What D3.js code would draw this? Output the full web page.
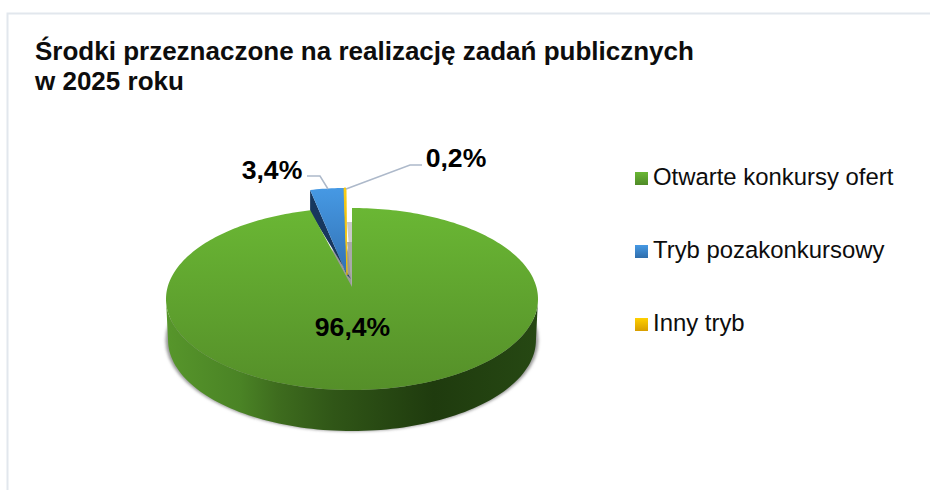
<!DOCTYPE html>
<html lang="pl">
<head>
<meta charset="utf-8">
<title>Środki przeznaczone na realizację zadań publicznych</title>
<script src="https://cdn.jsdelivr.net/npm/d3@7/dist/d3.min.js"></script>
<style>
  html, body { margin: 0; padding: 0; background: #fff; }
  svg { display: block; }
  text { font-family: "Liberation Sans", Arial, sans-serif; fill: #0d0d0d; }
  .title { font-size: 26px; font-weight: bold; }
  .label { font-size: 26.6px; font-weight: bold; fill: #000; }
  .legend { font-size: 23.9px; }
</style>
</head>
<body>
<div id="chart"></div>
<script>
var categories = ['Otwarte konkursy ofert', 'Tryb pozakonkursowy', 'Inny tryb'];
var values = [96.4, 3.4, 0.2];
var valueLabels = ['96,4%', '3,4%', '0,2%'];
var titleLines = ['Środki przeznaczone na realizację zadań publicznych', 'w 2025 roku'];

var width = 930, height = 490;

// fake 3d: one ellipse for the main disc, a smaller/further one for the pulled out wedges
var disc = {cx: 352, cy: 299, rx: 186, ry: 91, apexX: 352, apexY: 287, depth: 41};
var pulled = {cx: 346, cy: 266, rx: 160, ry: 78, apexX: 347, apexY: 275};

function rimPoint(e, a) {
  return [e.cx + e.rx * Math.sin(a), e.cy - e.ry * Math.cos(a)];
}

function wedgePath(e, a0, a1) {
  var p = d3.path(), steps = Math.max(2, Math.ceil((a1 - a0) / 0.02));
  p.moveTo(e.apexX, e.apexY);
  d3.range(steps + 1).forEach(function (i) {
    var pt = rimPoint(e, a0 + (a1 - a0) * i / steps);
    p.lineTo(pt[0], pt[1]);
  });
  p.closePath();
  return p.toString();
}

var svg = d3.select('#chart').append('svg').attr('width', width).attr('height', height);
var defs = svg.append('defs');

function linearGradient(id, horizontal, stops) {
  var g = defs.append('linearGradient').attr('id', id)
    .attr('x1', 0).attr('y1', 0)
    .attr('x2', horizontal ? 1 : 0).attr('y2', horizontal ? 0 : 1);
  stops.forEach(function (s) {
    g.append('stop').attr('offset', s[0]).attr('stop-color', s[1]);
  });
}

linearGradient('greenTop', false, [[0, '#6ab734'], [1, '#558f29']]);
linearGradient('greenWall', true, [[0, '#57962b'], [0.2, '#4a8325'], [0.3, '#3e6c1e'], [0.45, '#305617'], [0.72, '#1f3b0e'], [1, '#264813']]);
linearGradient('blueTop', false, [[0, '#4699e4'], [1, '#3271b3']]);
linearGradient('yellowTop', false, [[0, '#ffd31a'], [1, '#e0a800']]);
linearGradient('swatch0', false, [[0, '#6ab734'], [1, '#4f8a27']]);
linearGradient('swatch1', false, [[0, '#4699e4'], [1, '#2f6dab']]);
linearGradient('swatch2', false, [[0, '#ffd000'], [1, '#d89e00']]);

defs.append('filter').attr('id', 'soft')
  .attr('x', '-10%').attr('y', '-10%').attr('width', '120%').attr('height', '120%')
  .append('feGaussianBlur').attr('stdDeviation', 1.6);

// frame, only top and left are inside the picture
svg.append('path')
  .attr('d', 'M7.5,490V13.5H930')
  .attr('fill', 'none')
  .attr('stroke', '#e2e7ed')
  .attr('stroke-width', 2);

svg.selectAll('.title').data(titleLines).enter().append('text')
  .attr('class', 'title')
  .attr('x', 35)
  .attr('y', function (d, i) { return 60 + i * 30; })
  .text(function (d) { return d; });

var arcs = d3.pie().sort(null).startAngle(0).endAngle(2 * Math.PI)(values);
var greenArc = arcs[0], blueArc = arcs[1], yellowArc = arcs[2];

// shadow under the disc
svg.append('ellipse')
  .attr('cx', disc.cx).attr('cy', disc.cy + disc.depth + 0.5)
  .attr('rx', disc.rx + 0.5).attr('ry', disc.ry)
  .attr('fill', '#9a9a9a')
  .attr('filter', 'url(#soft)');

// outer wall of the disc, the lower rim is a bit narrower
var wallPts = d3.range(0, 101).map(function (i) {
  return rimPoint(disc, Math.PI / 2 + Math.PI * i / 100);
});
var wallBottom = wallPts.map(function (p) {
  return [disc.cx + (p[0] - disc.cx) * 0.989, p[1] + disc.depth];
}).reverse();
svg.append('path')
  .attr('d', d3.line()(wallPts.concat(wallBottom)) + 'Z')
  .attr('fill', 'url(#greenWall)');

// inner cut wall behind the gap
svg.append('path')
  .attr('d', 'M347,222H352V287Z')
  .attr('fill', '#c9c9c9');
svg.append('path')
  .attr('d', 'M347,242H352V287Z')
  .attr('fill', '#a9a9a9');

// dark side of the pulled out wedge
var blueLeft = rimPoint(pulled, blueArc.startAngle);
var greenEnd = rimPoint(disc, greenArc.endAngle);
svg.append('path')
  .attr('d', d3.line()([blueLeft, [blueLeft[0], greenEnd[1] + 2], [disc.apexX - 1, disc.apexY - 8], [pulled.apexX, pulled.apexY]]) + 'Z')
  .attr('fill', '#17375e');

svg.append('path')
  .attr('d', wedgePath(pulled, blueArc.startAngle, blueArc.endAngle))
  .attr('fill', 'url(#blueTop)');
svg.append('path')
  .attr('d', wedgePath(pulled, yellowArc.startAngle, yellowArc.endAngle))
  .attr('fill', 'url(#yellowTop)')
  .attr('stroke', '#f5c400')
  .attr('stroke-width', 0.8);

// main slice
svg.append('path')
  .attr('d', wedgePath(disc, greenArc.startAngle, greenArc.endAngle))
  .attr('fill', 'url(#greenTop)');

// leader lines
var leaders = d3.line();
svg.append('path')
  .attr('d', leaders([[307, 176], [320, 176], [328, 189]]))
  .attr('fill', 'none').attr('stroke', '#adb9ca').attr('stroke-width', 1.5);
svg.append('path')
  .attr('d', leaders([[346, 189], [410, 165], [422, 165]]))
  .attr('fill', 'none').attr('stroke', '#adb9ca').attr('stroke-width', 1.5);

var labelPos = [[352.5, 336], [272, 179], [456, 167]];
svg.selectAll('.label').data(valueLabels).enter().append('text')
  .attr('class', 'label')
  .attr('text-anchor', 'middle')
  .attr('x', function (d, i) { return labelPos[i][0]; })
  .attr('y', function (d, i) { return labelPos[i][1]; })
  .text(function (d) { return d; });

// legend
var legendY = d3.scalePoint().domain(categories).range([178.5, 324.5]);
var legend = svg.selectAll('.legend-item').data(categories).enter().append('g')
  .attr('class', 'legend-item')
  .attr('transform', function (d) { return 'translate(635,' + legendY(d) + ')'; });
legend.append('rect')
  .attr('x', 0).attr('y', -6.5).attr('width', 13).attr('height', 13)
  .attr('fill', function (d, i) { return 'url(#swatch' + i + ')'; });
legend.append('text')
  .attr('class', 'legend')
  .attr('x', 18).attr('y', 6.8)
  .text(function (d) { return d; });
</script>
</body>
</html>
